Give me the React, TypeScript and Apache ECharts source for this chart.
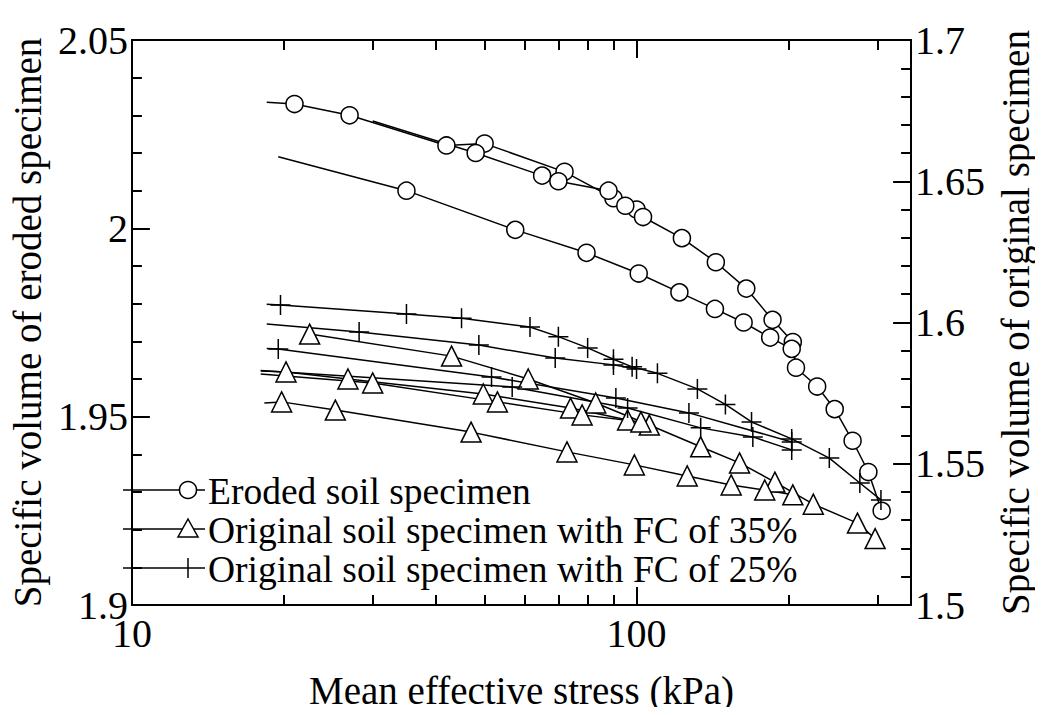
import React, { useEffect, useRef } from "react";
import * as echarts from "echarts";

// ---- axis ticks ----
const xMajorTicks = [10, 100];
const xMinorTicks = [20, 30, 40, 50, 60, 70, 80, 90, 200, 300];

// ---- Eroded soil specimen (left axis) ----
const erodedA_p = [18.5, 21, 27, 42, 50, 72, 90, 100];
const erodedA_v = [2.0335, 2.033, 2.03, 2.022, 2.0225, 2.015, 2.008, 2.005];
const erodedB_p = [30, 48, 65, 70, 88, 95, 103, 123, 143.6, 165, 186, 204, 207, 228, 247, 268, 288, 306];
const erodedB_v = [2.0285, 2.02, 2.014, 2.0125, 2.01, 2.006, 2.003, 1.9974, 1.991, 1.984, 1.9757, 1.9698, 1.963, 1.958, 1.952, 1.9436, 1.9353, 1.925];
const erodedC_p = [19.5, 35, 57.5, 79.6, 101, 121.6, 143, 163, 184, 203];
const erodedC_v = [2.019, 2.01, 1.9996, 1.9935, 1.988, 1.983, 1.9786, 1.975, 1.971, 1.968];

// ---- Original soil specimen with FC of 35% (right axis) ----
const fc35A_p = [22.5, 43, 61, 83, 106, 134, 160, 188, 224, 274, 297];
const fc35A_v = [1.5959, 1.5881, 1.58, 1.5715, 1.5637, 1.556, 1.5503, 1.5435, 1.5357, 1.529, 1.5235];
const fc35B_p = [18, 20.2, 26.8, 49.7, 74, 96];
const fc35B_v = [1.5828, 1.5825, 1.58, 1.5747, 1.5697, 1.5655];
const fc35C_p = [18, 30, 53, 78, 102];
const fc35C_v = [1.5818, 1.5786, 1.5719, 1.5673, 1.5648];
const fc35D_p = [18.3, 19.8, 25.3, 47, 72.8, 99, 126, 154, 179.5, 204];
const fc35D_v = [1.5715, 1.5719, 1.569, 1.5612, 1.5542, 1.5496, 1.5457, 1.5425, 1.5407, 1.539];

// ---- Original soil specimen with FC of 25% (right axis) ----
const fc25A_p = [18.5, 19.7, 35, 45, 61.5, 70, 80, 90, 98, 110, 132, 150, 169, 203, 241, 277, 305];
const fc25A_v = [1.6065, 1.6062, 1.603, 1.6015, 1.5984, 1.595, 1.591, 1.587, 1.5843, 1.582, 1.5765, 1.571, 1.5648, 1.5588, 1.552, 1.5432, 1.5372];
const fc25B_p = [18.5, 28.2, 48.7, 69, 90, 100];
const fc25B_v = [1.5995, 1.5966, 1.592, 1.5874, 1.585, 1.5835];
const fc25C_p = [18.5, 19.5, 51.6, 91, 127, 203];
const fc25C_v = [1.5908, 1.5906, 1.5807, 1.5733, 1.568, 1.5577];
const fc25D_p = [18, 56.7, 96, 134, 170, 203];
const fc25D_v = [1.583, 1.5772, 1.5697, 1.5627, 1.5595, 1.5549];

const NAME_E = "Eroded soil specimen";
const NAME_35 = "Original soil specimen with FC of 35%";
const NAME_25 = "Original soil specimen with FC of 25%";
const legendNames = [NAME_E, NAME_35, NAME_25];

const FONT = "'Liberation Serif', 'Times New Roman', serif";
const PLUS = "path://M10,0L10,20M0,10L20,10";

type Curve = { name: string; p: number[]; v: number[]; bare: boolean; axis: number };

const curves: Curve[] = [
  { name: NAME_E, p: erodedA_p, v: erodedA_v, bare: true, axis: 0 },
  { name: NAME_E, p: erodedB_p, v: erodedB_v, bare: true, axis: 0 },
  { name: NAME_E, p: erodedC_p, v: erodedC_v, bare: true, axis: 0 },
  { name: NAME_35, p: fc35A_p, v: fc35A_v, bare: false, axis: 1 },
  { name: NAME_35, p: fc35B_p, v: fc35B_v, bare: true, axis: 1 },
  { name: NAME_35, p: fc35C_p, v: fc35C_v, bare: true, axis: 1 },
  { name: NAME_35, p: fc35D_p, v: fc35D_v, bare: true, axis: 1 },
  { name: NAME_25, p: fc25A_p, v: fc25A_v, bare: true, axis: 1 },
  { name: NAME_25, p: fc25B_p, v: fc25B_v, bare: true, axis: 1 },
  { name: NAME_25, p: fc25C_p, v: fc25C_v, bare: true, axis: 1 },
  { name: NAME_25, p: fc25D_p, v: fc25D_v, bare: true, axis: 1 },
];

function symbolFor(name: string) {
  if (name === NAME_E) return { symbol: "circle", size: 17 };
  if (name === NAME_35) return { symbol: "triangle", size: 20 };
  return { symbol: PLUS, size: 20 };
}

const STROKE = { stroke: "#000", lineWidth: 1.5 };

function legendGraphics() {
  const els: any[] = [];
  const x0 = 123;
  const x1 = 205;
  const mx = 188;
  legendNames.forEach((name, i) => {
    const y = 490 + 39 * i;
    els.push({ type: "line", shape: { x1: x0, y1: y, x2: x1, y2: y }, style: STROKE, z: 100 });
    if (name === NAME_E) {
      els.push({ type: "circle", shape: { cx: mx, cy: y, r: 8.5 }, style: { ...STROKE, fill: "#fff" }, z: 101 });
    } else if (name === NAME_35) {
      els.push({
        type: "polygon",
        shape: { points: [[mx, y - 10], [mx + 10, y + 8], [mx - 10, y + 8]] },
        style: { ...STROKE, fill: "#fff" },
        z: 101,
      });
    } else {
      els.push({ type: "line", shape: { x1: mx, y1: y - 10, x2: mx, y2: y + 10 }, style: STROKE, z: 101 });
    }
    els.push({
      type: "text",
      x: 208,
      y: y + 1,
      style: { text: name, fill: "#000", font: `37.5px ${FONT}`, verticalAlign: "middle", align: "left" },
      z: 101,
    });
  });
  return els;
}

export default function App() {
  const ref = useRef<HTMLDivElement>(null);
  useEffect(() => {
    if (!ref.current) return;
    const chart = echarts.init(ref.current, undefined, { renderer: "svg" });

    const series: any[] = curves.map((c) => {
      const s = symbolFor(c.name);
      return {
        type: "line",
        name: c.name,
        xAxisIndex: 0,
        yAxisIndex: c.axis,
        symbol: s.symbol,
        symbolSize: s.size,
        showSymbol: true,
        showAllSymbol: true,
        data: c.p.map((x, i) =>
          i === 0 && c.bare ? { value: [x, c.v[i]], symbol: "none" } : [x, c.v[i]]
        ),
        lineStyle: { color: "#000", width: 1.5 },
        itemStyle: { color: "#fff", borderColor: "#000", borderWidth: 1.5 },
        emphasis: { disabled: true },
      };
    });

    const baseX = {
      type: "log",
      logBase: 10,
      min: 10,
      max: 350,
      gridIndex: 0,
      splitLine: { show: false },
    };
    const axisLineStyle = { color: "#000", width: 2 };

    chart.setOption({
      animation: false,
      backgroundColor: "#fff",
      grid: { left: 123, right: 125, top: 40, bottom: 110, containLabel: false },
      graphic: legendGraphics(),
      xAxis: [
        {
          ...baseX,
          position: "bottom",
          axisLine: { show: true, lineStyle: axisLineStyle },
          axisTick: { show: true, inside: true, length: 18, lineStyle: axisLineStyle, customValues: xMajorTicks },
          axisLabel: {
            show: true,
            customValues: xMajorTicks,
            fontFamily: FONT,
            fontSize: 40,
            color: "#000",
            margin: 8,
            formatter: (v: number) => String(Math.round(v)),
          },
          name: "Mean effective stress (kPa)",
          nameLocation: "middle",
          nameGap: 66,
          nameTextStyle: { fontFamily: FONT, fontSize: 39, color: "#000" },
        },
        {
          ...baseX,
          position: "bottom",
          axisLine: { show: false },
          axisTick: { show: true, inside: true, length: 10, lineStyle: axisLineStyle, customValues: xMinorTicks },
          axisLabel: { show: false },
        },
        {
          ...baseX,
          position: "top",
          axisLine: { show: true, lineStyle: axisLineStyle },
          axisTick: { show: true, inside: true, length: 18, lineStyle: axisLineStyle, customValues: xMajorTicks },
          axisLabel: { show: false },
        },
        {
          ...baseX,
          position: "top",
          axisLine: { show: false },
          axisTick: { show: true, inside: true, length: 10, lineStyle: axisLineStyle, customValues: xMinorTicks },
          axisLabel: { show: false },
        },
      ],
      yAxis: [
        {
          type: "value",
          position: "left",
          min: 1.9,
          max: 2.05,
          interval: 0.05,
          splitLine: { show: false },
          axisLine: { show: true, lineStyle: axisLineStyle },
          axisTick: { show: true, inside: true, length: 18, lineStyle: axisLineStyle },
          minorTick: { show: true, splitNumber: 5, length: 10, lineStyle: axisLineStyle },
          axisLabel: { fontFamily: FONT, fontSize: 40, color: "#000", margin: 4 },
          name: "Specific volume of eroded specimen",
          nameLocation: "middle",
          nameRotate: 90,
          nameGap: 67,
          nameTextStyle: { fontFamily: FONT, fontSize: 39, color: "#000" },
        },
        {
          type: "value",
          position: "right",
          min: 1.5,
          max: 1.7,
          interval: 0.05,
          splitLine: { show: false },
          axisLine: { show: true, lineStyle: axisLineStyle },
          axisTick: { show: true, inside: true, length: 18, lineStyle: axisLineStyle },
          minorTick: { show: true, splitNumber: 5, length: 10, lineStyle: axisLineStyle },
          axisLabel: { fontFamily: FONT, fontSize: 40, color: "#000", margin: 4 },
          name: "Specific volume of original specimen",
          nameLocation: "middle",
          nameRotate: 90,
          nameGap: 84,
          nameTextStyle: { fontFamily: FONT, fontSize: 39, color: "#000" },
        },
      ],
      series,
    });
    return () => chart.dispose();
  }, []);
  return <div ref={ref} style={{ width: 1043, height: 715, margin: -8 }} />;
}
